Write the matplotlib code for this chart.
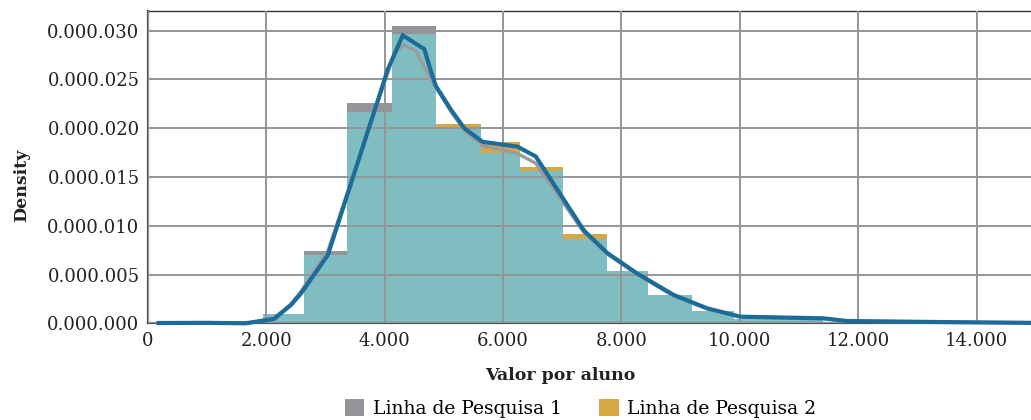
import matplotlib
matplotlib.use("Agg")
import matplotlib.pyplot as plt
from matplotlib.patches import Patch
import numpy as np

# Histogram bin edges (valor por aluno) and densities for each research line
bin_edges = [1290, 1945, 2630, 3365, 4120, 4865, 5625, 6280, 7020,
             7760, 8450, 9195, 9905, 10650, 11410]
dens_linha1 = [0.0002, 0.00095, 0.0074, 0.0226, 0.0305, 0.0200, 0.0175,
               0.0156, 0.0086, 0.0054, 0.0029, 0.0013, 0.00045, 0.0004]
dens_linha2 = [0.0002, 0.00095, 0.0070, 0.0217, 0.0296, 0.0204, 0.0186,
               0.0160, 0.0092, 0.0054, 0.0029, 0.0013, 0.00045, 0.0004]

# Density curves
kde1_x = [180, 1000, 1650, 2130, 2420, 2590, 3040, 4163, 4332, 4529, 4782,
          5119, 5343, 5653, 6244, 6552, 7367, 7761, 8267, 8884, 9447, 10008,
          11413, 11807, 13380, 14920]
kde1_y = [0.00003, 0.00005, 0.0, 0.0005, 0.0020, 0.0033, 0.0074, 0.0277,
          0.0285, 0.0279, 0.0250, 0.0217, 0.0198, 0.0182, 0.0174, 0.0164,
          0.0093, 0.0071, 0.0050, 0.0028, 0.0015, 0.00066, 0.0005, 0.00023,
          0.00012, 0.00005]
kde2_x = [180, 1000, 1650, 2130, 2420, 2590, 3040, 4052, 4305, 4669, 4782,
          4866, 5119, 5343, 5653, 6244, 6552, 7367, 7761, 8267, 8884, 9447,
          10008, 11413, 11807, 13380, 14920]
kde2_y = [0.00003, 0.00005, 0.0, 0.00045, 0.0019, 0.0031, 0.0070, 0.0260,
          0.0295, 0.0281, 0.0258, 0.0243, 0.0219, 0.0200, 0.0186, 0.0181,
          0.0171, 0.0095, 0.0072, 0.0051, 0.0029, 0.00154, 0.00068, 0.00051,
          0.00024, 0.00013, 0.00005]

x_ticks = [0, 2000, 4000, 6000, 8000, 10000, 12000, 14000]
x_tick_labels = ["0", "2.000", "4.000", "6.000", "8.000", "10.000",
                 "12.000", "14.000"]
y_ticks = [0.0, 0.005, 0.010, 0.015, 0.020, 0.025, 0.030]
y_tick_labels = ["0.000.000", "0.000.005", "0.000.010", "0.000.015",
                 "0.000.020", "0.000.025", "0.000.030"]
series_names = ["Linha de Pesquisa 1", "Linha de Pesquisa 2"]

GRAY = "#939598"
GOLD = "#D5A843"
TEAL = "#80BDC1"
BLUE = "#1C6C9A"
LINE_GRAY = "#9B9B9F"
GRID = "#939598"
TEXT = "#222222"

plt.rcParams["font.family"] = ["DejaVu Serif"]

fig = plt.figure(figsize=(10.31, 4.20), dpi=100)
ax = fig.add_axes([0.1435, 0.2302, 0.8565, 0.7436])

edges = np.array(bin_edges, dtype=float)
left = edges[:-1]
width = np.diff(edges)
d1 = np.array(dens_linha1)
d2 = np.array(dens_linha2)

ax.bar(left, d1, width=width, align="edge", color=GRAY, linewidth=0, zorder=1)
ax.bar(left, d2, width=width, align="edge", color=GOLD, linewidth=0, zorder=1.1)
ax.bar(left, np.minimum(d1, d2), width=width, align="edge", color=TEAL,
       linewidth=0, zorder=1.2)

ax.plot(kde1_x, kde1_y, color=LINE_GRAY, lw=2.4, zorder=3,
        solid_joinstyle="miter", clip_on=False)
ax.plot(kde2_x, kde2_y, color=BLUE, lw=3.0, zorder=3.1,
        solid_joinstyle="miter", clip_on=False)

ax.set_xlim(0, 14920)
ax.set_ylim(0, 0.0320)
ax.set_xticks(x_ticks)
ax.set_xticklabels(x_tick_labels)
ax.set_yticks(y_ticks)
ax.set_yticklabels(y_tick_labels)
ax.tick_params(axis="both", length=0, labelsize=13, colors=TEXT)
ax.tick_params(axis="x", pad=6)
ax.tick_params(axis="y", pad=6)

ax.set_axisbelow(False)
ax.grid(True, color=GRID, linewidth=1.4, zorder=2.5)

for side in ("left", "bottom"):
    ax.spines[side].set_color("#555555")
    ax.spines[side].set_linewidth(1.6)
ax.spines["top"].set_color("#333333")
ax.spines["top"].set_linewidth(1.0)
ax.spines["right"].set_visible(False)

ax.set_xlabel("Valor por aluno", fontsize=12.5, fontweight="bold", color=TEXT)
ax.xaxis.set_label_coords(0.4666, -0.14)
ax.set_ylabel("Density", fontsize=12.5, fontweight="bold", color=TEXT)
ax.yaxis.set_label_coords(-0.1427, 0.443)
ax.yaxis.label.set_va("center")

handles = [Patch(facecolor=GRAY, edgecolor="none"),
           Patch(facecolor=GOLD, edgecolor="none")]
fig.legend(handles, series_names, loc="lower center",
           bbox_to_anchor=(0.563, -0.035), ncol=2, frameon=False,
           fontsize=13.5, handlelength=1.05, handleheight=1.05,
           handletextpad=0.45, columnspacing=2.0)

fig.savefig("out.png", dpi=100)
